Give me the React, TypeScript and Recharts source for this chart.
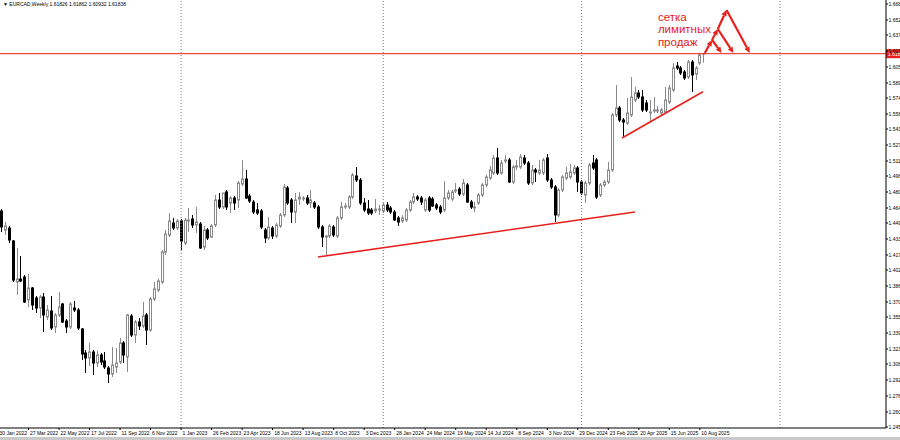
import { ComposedChart, Bar, XAxis, YAxis, ReferenceLine, ReferenceDot, Customized } from 'recharts'

// weekly bars, index 0 = 30 Jan 2022
const OPEN = [
  1.425, 1.461, 1.442, 1.444, 1.431, 1.390, 1.393, 1.395, 1.372, 1.384, 1.374, 1.364, 1.375, 1.355, 1.361, 1.345,
  1.357, 1.368, 1.351, 1.345, 1.364, 1.362, 1.343, 1.319, 1.314, 1.320, 1.309, 1.317, 1.311, 1.304, 1.298, 1.305,
  1.310, 1.329, 1.315, 1.356, 1.337, 1.350, 1.346, 1.357, 1.342, 1.373, 1.382, 1.390, 1.420, 1.437, 1.449, 1.444,
  1.451, 1.429, 1.451, 1.453, 1.447, 1.448, 1.425, 1.442, 1.435, 1.447, 1.472, 1.465, 1.480, 1.469, 1.474, 1.472,
  1.488, 1.493, 1.476, 1.470, 1.462, 1.461, 1.442, 1.434, 1.444, 1.436, 1.446, 1.457, 1.484, 1.472, 1.460, 1.473,
  1.473, 1.474, 1.469, 1.469, 1.465, 1.445, 1.435, 1.436, 1.445, 1.436, 1.454, 1.465, 1.465, 1.475, 1.496, 1.492,
  1.469, 1.463, 1.462, 1.461, 1.462, 1.461, 1.467, 1.464, 1.460, 1.454, 1.451, 1.452, 1.462, 1.470, 1.475, 1.474,
  1.462, 1.474, 1.473, 1.467, 1.465, 1.462, 1.474, 1.473, 1.481, 1.483, 1.478, 1.487, 1.470, 1.464, 1.469, 1.477,
  1.487, 1.494, 1.499, 1.514, 1.499, 1.511, 1.512, 1.490, 1.505, 1.505, 1.514, 1.509, 1.489, 1.502, 1.499, 1.499,
  1.514, 1.492, 1.485, 1.457, 1.482, 1.494, 1.495, 1.499, 1.504, 1.490, 1.477, 1.489, 1.509, 1.512, 1.477, 1.487,
  1.490, 1.502, 1.557, 1.564, 1.552, 1.549, 1.557, 1.572, 1.579, 1.575, 1.569, 1.559, 1.561, 1.561, 1.559, 1.560,
  1.570, 1.582, 1.606, 1.604, 1.600, 1.595, 1.610, 1.598, 1.609, 1.61826,
]
const HIGH = [
  1.467, 1.463, 1.450, 1.446, 1.432, 1.424, 1.416, 1.397, 1.398, 1.385, 1.376, 1.377, 1.379, 1.367, 1.376, 1.359,
  1.380, 1.369, 1.353, 1.370, 1.371, 1.364, 1.344, 1.322, 1.329, 1.322, 1.321, 1.319, 1.320, 1.306, 1.325, 1.324,
  1.334, 1.331, 1.358, 1.358, 1.352, 1.354, 1.370, 1.359, 1.375, 1.390, 1.393, 1.422, 1.442, 1.459, 1.454, 1.453,
  1.453, 1.454, 1.464, 1.457, 1.465, 1.450, 1.446, 1.444, 1.448, 1.477, 1.479, 1.479, 1.482, 1.476, 1.476, 1.491,
  1.512, 1.502, 1.478, 1.472, 1.469, 1.463, 1.444, 1.455, 1.446, 1.449, 1.459, 1.488, 1.486, 1.474, 1.479, 1.480,
  1.476, 1.477, 1.482, 1.471, 1.467, 1.447, 1.437, 1.448, 1.447, 1.456, 1.470, 1.469, 1.477, 1.499, 1.505, 1.494,
  1.474, 1.472, 1.464, 1.473, 1.467, 1.469, 1.470, 1.466, 1.462, 1.456, 1.457, 1.464, 1.472, 1.479, 1.477, 1.476,
  1.474, 1.476, 1.475, 1.469, 1.467, 1.491, 1.482, 1.482, 1.489, 1.485, 1.493, 1.489, 1.472, 1.470, 1.479, 1.489,
  1.497, 1.506, 1.517, 1.524, 1.512, 1.517, 1.514, 1.507, 1.512, 1.518, 1.517, 1.511, 1.507, 1.504, 1.512, 1.514,
  1.518, 1.494, 1.487, 1.484, 1.497, 1.505, 1.508, 1.507, 1.506, 1.492, 1.491, 1.509, 1.517, 1.514, 1.489, 1.492,
  1.510, 1.559, 1.587, 1.566, 1.554, 1.574, 1.595, 1.585, 1.582, 1.582, 1.572, 1.572, 1.575, 1.566, 1.564, 1.585,
  1.587, 1.609, 1.610, 1.606, 1.602, 1.612, 1.612, 1.606, 1.619, 1.61862,
]
const LOW = [
  1.422, 1.440, 1.437, 1.429, 1.390, 1.377, 1.390, 1.369, 1.365, 1.362, 1.359, 1.354, 1.340, 1.352, 1.342, 1.339,
  1.355, 1.349, 1.339, 1.343, 1.360, 1.342, 1.312, 1.299, 1.306, 1.297, 1.305, 1.307, 1.303, 1.289, 1.295, 1.299,
  1.308, 1.309, 1.300, 1.335, 1.329, 1.342, 1.344, 1.327, 1.340, 1.371, 1.380, 1.388, 1.417, 1.435, 1.442, 1.442,
  1.422, 1.427, 1.440, 1.444, 1.439, 1.423, 1.422, 1.432, 1.434, 1.445, 1.463, 1.463, 1.462, 1.459, 1.462, 1.464,
  1.486, 1.473, 1.469, 1.458, 1.457, 1.443, 1.429, 1.432, 1.433, 1.434, 1.444, 1.455, 1.467, 1.449, 1.449, 1.467,
  1.471, 1.467, 1.464, 1.463, 1.443, 1.425, 1.416, 1.434, 1.435, 1.434, 1.452, 1.463, 1.463, 1.473, 1.490, 1.467,
  1.460, 1.457, 1.457, 1.459, 1.457, 1.459, 1.460, 1.458, 1.451, 1.446, 1.449, 1.450, 1.460, 1.468, 1.471, 1.467,
  1.460, 1.460, 1.465, 1.462, 1.458, 1.460, 1.472, 1.471, 1.479, 1.476, 1.476, 1.469, 1.463, 1.460, 1.467, 1.475,
  1.485, 1.492, 1.497, 1.497, 1.497, 1.509, 1.489, 1.488, 1.502, 1.503, 1.507, 1.487, 1.487, 1.490, 1.497, 1.497,
  1.490, 1.483, 1.450, 1.455, 1.480, 1.492, 1.493, 1.497, 1.480, 1.477, 1.469, 1.487, 1.502, 1.473, 1.475, 1.485,
  1.488, 1.500, 1.555, 1.550, 1.534, 1.547, 1.555, 1.570, 1.573, 1.560, 1.560, 1.550, 1.559, 1.559, 1.557, 1.558,
  1.568, 1.580, 1.602, 1.597, 1.592, 1.593, 1.580, 1.592, 1.607, 1.60932,
]
const CLOSE = [
  1.460, 1.445, 1.446, 1.432, 1.392, 1.393, 1.391, 1.370, 1.384, 1.367, 1.364, 1.375, 1.357, 1.362, 1.344, 1.357,
  1.365, 1.350, 1.345, 1.368, 1.362, 1.344, 1.318, 1.314, 1.320, 1.309, 1.317, 1.310, 1.305, 1.298, 1.307, 1.309,
  1.329, 1.317, 1.357, 1.337, 1.350, 1.346, 1.356, 1.342, 1.373, 1.383, 1.391, 1.420, 1.438, 1.451, 1.444, 1.451,
  1.431, 1.452, 1.452, 1.447, 1.450, 1.424, 1.442, 1.434, 1.446, 1.472, 1.465, 1.479, 1.465, 1.474, 1.469, 1.489,
  1.493, 1.474, 1.471, 1.460, 1.459, 1.445, 1.434, 1.445, 1.436, 1.447, 1.457, 1.485, 1.469, 1.460, 1.472, 1.475,
  1.474, 1.469, 1.472, 1.465, 1.445, 1.435, 1.436, 1.446, 1.437, 1.454, 1.465, 1.466, 1.475, 1.497, 1.492, 1.469,
  1.462, 1.459, 1.459, 1.463, 1.463, 1.467, 1.462, 1.460, 1.452, 1.450, 1.454, 1.462, 1.470, 1.475, 1.473, 1.470,
  1.472, 1.462, 1.466, 1.464, 1.460, 1.474, 1.479, 1.480, 1.482, 1.478, 1.489, 1.470, 1.465, 1.465, 1.477, 1.487,
  1.495, 1.502, 1.514, 1.499, 1.509, 1.512, 1.490, 1.505, 1.506, 1.515, 1.509, 1.489, 1.502, 1.500, 1.502, 1.512,
  1.492, 1.485, 1.457, 1.482, 1.495, 1.499, 1.500, 1.504, 1.490, 1.479, 1.489, 1.507, 1.504, 1.475, 1.487, 1.490,
  1.502, 1.557, 1.564, 1.552, 1.550, 1.559, 1.575, 1.579, 1.575, 1.562, 1.562, 1.560, 1.562, 1.562, 1.562, 1.572,
  1.584, 1.604, 1.604, 1.599, 1.594, 1.610, 1.597, 1.604, 1.617, 1.61838,
]

const WEEK_TICKS = [0, 8, 16, 24, 32, 40, 48, 56, 64, 72, 80, 88, 96, 104, 112, 120, 128, 136, 144, 152, 160, 168, 176, 184]
const WEEK_LABELS = [
  '30 Jan 2022', '27 Mar 2022', '22 May 2022', '17 Jul 2022', '11 Sep 2022', '6 Nov 2022', '1 Jan 2023',
  '26 Feb 2023', '23 Apr 2023', '18 Jun 2023', '13 Aug 2023', '8 Oct 2023', '3 Dec 2023', '28 Jan 2024',
  '24 Mar 2024', '19 May 2024', '14 Jul 2024', '8 Sep 2024', '3 Nov 2024', '29 Dec 2024', '23 Feb 2025',
  '20 Apr 2025', '15 Jun 2025', '10 Aug 2025',
]
const YEAR_STARTS = [48, 101, 153, 205]

const PRICE_TICKS = [
  1.668, 1.652, 1.637, 1.621, 1.605, 1.589, 1.574, 1.558, 1.543, 1.527, 1.511, 1.496, 1.480, 1.464,
  1.449, 1.433, 1.417, 1.402, 1.386, 1.370, 1.355, 1.339, 1.323, 1.308, 1.292, 1.276, 1.260, 1.245,
]

const LAST_PRICE = 1.6183
// hand-drawn annotations, [week, price] pairs
const TREND_LINES = [
  [83.9, 1.415, 167.0, 1.46],
  [163.6, 1.534, 184.8, 1.5803],
]
const ARROWS = [
  [185.3, 1.619, 187.2, 1.632],
  [187.2, 1.632, 188.7, 1.643],
  [188.7, 1.643, 191.0, 1.662],
  [187.2, 1.632, 189.7, 1.619],
  [188.7, 1.643, 192.8, 1.619],
  [191.0, 1.662, 197.1, 1.619],
]
const NOTE_LINES = ['сетка', 'лимитных', 'продаж']

const RED = '#e8201c'
const FONT = '"Liberation Sans", Arial, sans-serif'

const data = OPEN.map((o, i) => ({
  i,
  open: o,
  high: HIGH[i],
  low: LOW[i],
  close: CLOSE[i],
  range: [LOW[i], HIGH[i]],
}))

function Candle(props: any) {
  const { x, y, width, height, payload } = props
  if (x == null || payload == null) return null
  const { open, close, high, low } = payload
  const cx = Math.round(x + width / 2) + 0.5
  const k = high > low ? height / (high - low) : 0
  const yO = y + (high - open) * k
  const yC = y + (high - close) * k
  const up = close >= open
  const top = Math.min(yO, yC)
  const bh = Math.max(0.5, Math.abs(yO - yC))
  const col = up ? '#8a8a8a' : '#000'
  return (
    <g>
      <line x1={cx} x2={cx} y1={y} y2={y + height} stroke={col} strokeWidth={1} />
      <rect x={cx - 1} y={top} width={2} height={bh} fill={up ? '#fff' : '#000'} stroke={col} strokeWidth={1} />
    </g>
  )
}

function DateTick(props: any) {
  const { x, y, payload } = props
  const label = WEEK_LABELS[WEEK_TICKS.indexOf(payload.value)]
  return (
    <g>
      <line x1={x} x2={x} y1={y} y2={y + 2} stroke="#000" />
      <text x={x + 1.5} y={y + 7} fontSize={5} fontFamily={FONT} fill="#000" textAnchor="start">
        {label}
      </text>
    </g>
  )
}

function PriceTick(props: any) {
  const { x, y, payload } = props
  return (
    <g>
      <line x1={x} x2={x + 2} y1={y} y2={y} stroke="#000" />
      <text x={x + 2.5} y={y + 1.8} fontSize={5} fontFamily={FONT} fill="#000">
        {payload.value.toFixed(3)}
      </text>
    </g>
  )
}

function PriceTag(props: any) {
  const { viewBox } = props
  if (!viewBox) return null
  const x = viewBox.x + viewBox.width
  const y = viewBox.y
  return (
    <g>
      <rect x={x} y={y - 4.5} width={14} height={9} fill={RED} />
      <text x={x + 2} y={y + 1.8} fontSize={5} fontFamily={FONT} fill="#fff">
        {LAST_PRICE.toFixed(3)}
      </text>
    </g>
  )
}

function Arrow(props: any) {
  const { x1, y1, x2, y2 } = props
  const a = Math.atan2(y2 - y1, x2 - x1)
  const L = 6
  const W = 2.8
  const bx = x2 - L * Math.cos(a)
  const by = y2 - L * Math.sin(a)
  const px = -Math.sin(a) * W
  const py = Math.cos(a) * W
  return (
    <g>
      <line x1={x1} y1={y1} x2={bx} y2={by} stroke={RED} strokeWidth={2.2} />
      <polygon points={`${x2},${y2} ${bx + px},${by + py} ${bx - px},${by - py}`} fill={RED} />
    </g>
  )
}

function Note(props: any) {
  const { cx, cy } = props
  return (
    <text x={cx} y={cy} fontSize={11.5} fontFamily={FONT} fill={RED}>
      {NOTE_LINES.map((t, k) => (
        <tspan key={t} x={cx} dy={k === 0 ? 0 : 12.7}>
          {t}
        </tspan>
      ))}
    </text>
  )
}

function Title() {
  return (
    <text x={3} y={6} fontSize={5} fontFamily={FONT} fill="#000">
      ▼ EURCAD,Weekly  1.61826 1.61862 1.60932 1.61838
    </text>
  )
}

export default function App() {
  return (
    <div style={{ position: 'absolute', left: 0, top: 0, width: 900, height: 440, background: '#fff', overflow: 'hidden' }}>
      <ComposedChart width={900} height={440} data={data} margin={{ top: 0, right: 0, bottom: 0, left: -2 }}>
        <XAxis
          dataKey="i"
          type="number"
          domain={[0, 232.8]}
          allowDataOverflow
          ticks={WEEK_TICKS}
          interval={0}
          tick={<DateTick />}
          tickLine={false}
          tickSize={0}
          tickMargin={0}
          height={12}
          axisLine={{ stroke: '#000' }}
        />
        <YAxis
          orientation="right"
          type="number"
          domain={[1.244, 1.672]}
          allowDataOverflow
          ticks={PRICE_TICKS}
          interval={0}
          tick={<PriceTick />}
          tickLine={false}
          tickSize={0}
          tickMargin={0}
          width={14}
          axisLine={{ stroke: '#000' }}
        />
        {YEAR_STARTS.map((w) => (
          <ReferenceLine key={w} x={w} stroke="#777" strokeDasharray="1 2" />
        ))}
        <Bar dataKey="range" barSize={3} shape={<Candle />} isAnimationActive={false} />
        <ReferenceLine y={LAST_PRICE} stroke={RED} strokeWidth={1} label={<PriceTag />} />
        {TREND_LINES.map(([a, b, c, d], k) => (
          <ReferenceLine
            key={'t' + k}
            segment={[{ x: a, y: b }, { x: c, y: d }]}
            stroke={RED}
            strokeWidth={1.6}
          />
        ))}
        {ARROWS.map(([a, b, c, d], k) => (
          <ReferenceLine key={'a' + k} segment={[{ x: a, y: b }, { x: c, y: d }]} shape={<Arrow />} />
        ))}
        <ReferenceDot x={173} y={1.6513} r={0} shape={<Note />} />
        <Customized component={<Title />} />
      </ComposedChart>
      <div style={{ position: 'absolute', left: 0, top: 437, width: 900, height: 3, background: '#c9c9c9' }} />
    </div>
  )
}
